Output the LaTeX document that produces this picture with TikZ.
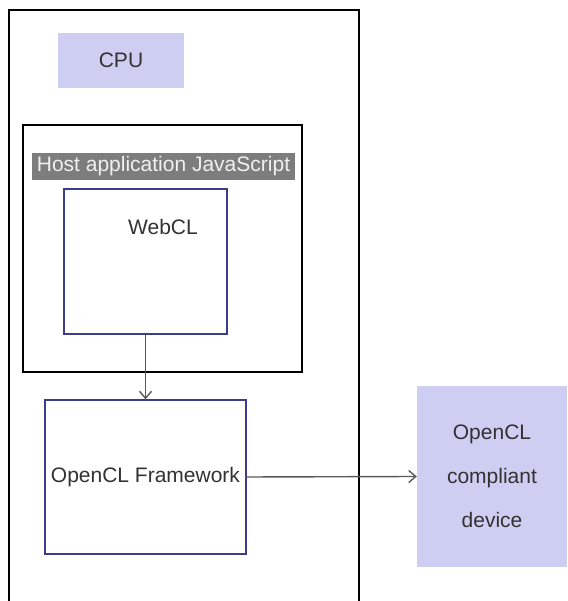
\documentclass[tikz,border=0pt]{standalone}
\usepackage{fontspec}
\setmainfont{Liberation Sans}
\usepackage[dvipsnames]{xcolor}
\usetikzlibrary{arrows.meta}

\definecolor{lavender}{RGB}{206,206,242}
\definecolor{boxblue}{RGB}{60,60,140}
\definecolor{labelgray}{RGB}{125,125,125}
\definecolor{textgray}{RGB}{50,50,50}

\begin{document}
\begin{tikzpicture}[x=1pt, y=1pt,
    every node/.style={font=\fontsize{21}{24}\selectfont, text=textgray, inner sep=0pt},
    hwbox/.style={fill=lavender, minimum width=#1},
    swbox/.style={draw=boxblue, line width=1.3pt, fill=white},
    link/.style={-{Straight Barb[length=7pt, width=12pt]}, draw=black!65, line width=1.4pt}]
    \useasboundingbox (0,0) rectangle (567,601);
    % Host machine (open at the bottom)
    \draw[line width=1.1pt] (9,0) |- (359,591) -- (359,0);
    \node[hwbox=126pt, minimum height=55pt] (cpu) at (121,540.5) {CPU};
    % Host application with WebCL inside
    \node[draw, line width=1.1pt, minimum width=279pt, minimum height=247pt] (host) at (162.5,352.5) {};
    \node[fill=labelgray, text=white!94!black, minimum width=263pt, minimum height=27pt] (hostlabel) at (163.5,434.5) {Host application JavaScript};
    \node[swbox, minimum width=163pt, minimum height=145pt] (webcl) at (145.5,339.5) {};
    \node (webcllabel) at (163,374) {WebCL};
    \node[swbox, minimum width=201pt, minimum height=154pt] (framework) at (145.5,124) {OpenCL Framework};
    % Device outside the host
    \node[hwbox=150pt, minimum height=181pt, align=center,
          font=\fontsize{21}{44}\selectfont] (device) at (492,124.5) {OpenCL\\compliant\\device};
    \draw[link] (webcl.south) -- (framework.north);
    \draw[link] (framework.east) -- (device.west);
\end{tikzpicture}
\end{document}
